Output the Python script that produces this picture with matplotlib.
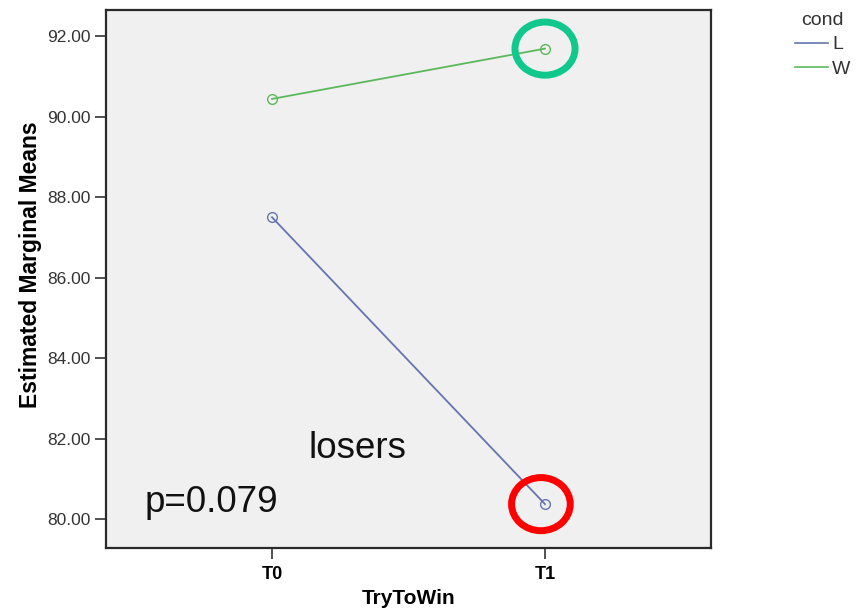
import matplotlib
matplotlib.use("Agg")
import matplotlib.pyplot as plt
from matplotlib.patches import Ellipse

plt.rcParams['font.family'] = ['Liberation Sans', 'DejaVu Sans']

times = ["T0", "T1"]
cond_L = [87.50, 80.37]
cond_W = [90.44, 91.69]
yticks = [80, 82, 84, 86, 88, 90, 92]

fig = plt.figure(figsize=(8.65, 6.14), dpi=100)
ax = fig.add_axes([106/865, 1 - 548/614, (711-106)/865, (548-10)/614])
ax.set_facecolor('#f0f0f0')

x = [0, 1]
ax.plot(x, cond_L, color='#6574b0', lw=1.3, marker='o', ms=7, mfc='none', mew=1.0, label='L')
ax.plot(x, cond_W, color='#5cb85c', lw=1.3, marker='o', ms=7, mfc='none', mew=1.0, label='W')

ax.set_xlim(-0.608, 1.608)
ax.set_ylim(79.28, 92.65)
ax.set_xticks(x)
ax.set_xticklabels(times, fontweight='bold', fontsize=13)
ax.set_yticks(yticks)
ax.set_yticklabels(["%.2f" % v for v in yticks], fontsize=12.5, color='#333333')
ax.tick_params(axis='both', direction='out', length=8, width=1.2, color='#333333')
ax.tick_params(axis='y', pad=3)
ax.tick_params(axis='x', pad=5)
for s in ax.spines.values():
    s.set_linewidth(1.6)
    s.set_color('#2a2a2a')

ax.set_xlabel("TryToWin", fontweight='bold', fontsize=15)
ax.xaxis.set_label_coords(0.5, -0.076)
ax.set_ylabel("Estimated Marginal Means", fontweight='bold', fontsize=16.5)
ax.yaxis.set_label_coords(-0.105, 0.526)

# highlight circles around T1 points
ax.add_patch(Ellipse((1 - 0.015, cond_L[1]), 0.215, 1.32, fill=False, ec='#ff0000', lw=5, zorder=5))
ax.add_patch(Ellipse((1, cond_W[1]), 0.22, 1.32, fill=False, ec='#10c88c', lw=5, zorder=5))

ax.text(0.315, 81.52, "losers", fontsize=26.5, color='#111111', ha='center', va='baseline')
ax.text(-0.223, 80.17, "p=0.079", fontsize=26.5, color='#111111', ha='center', va='baseline')

leg = fig.legend(loc='upper left', bbox_to_anchor=(795/865, 1 - 12/614), frameon=False,
                 title='cond', fontsize=14, title_fontsize=14, handlelength=1.7,
                 handletextpad=0.2, labelspacing=0.35, borderaxespad=0, borderpad=0)
for line in leg.get_lines():
    line.set_marker('')
    line.set_linewidth(1.2)
leg.get_title().set_color('#333333')
for t in leg.get_texts():
    t.set_color('#333333')

fig.savefig('out.png', dpi=100)
